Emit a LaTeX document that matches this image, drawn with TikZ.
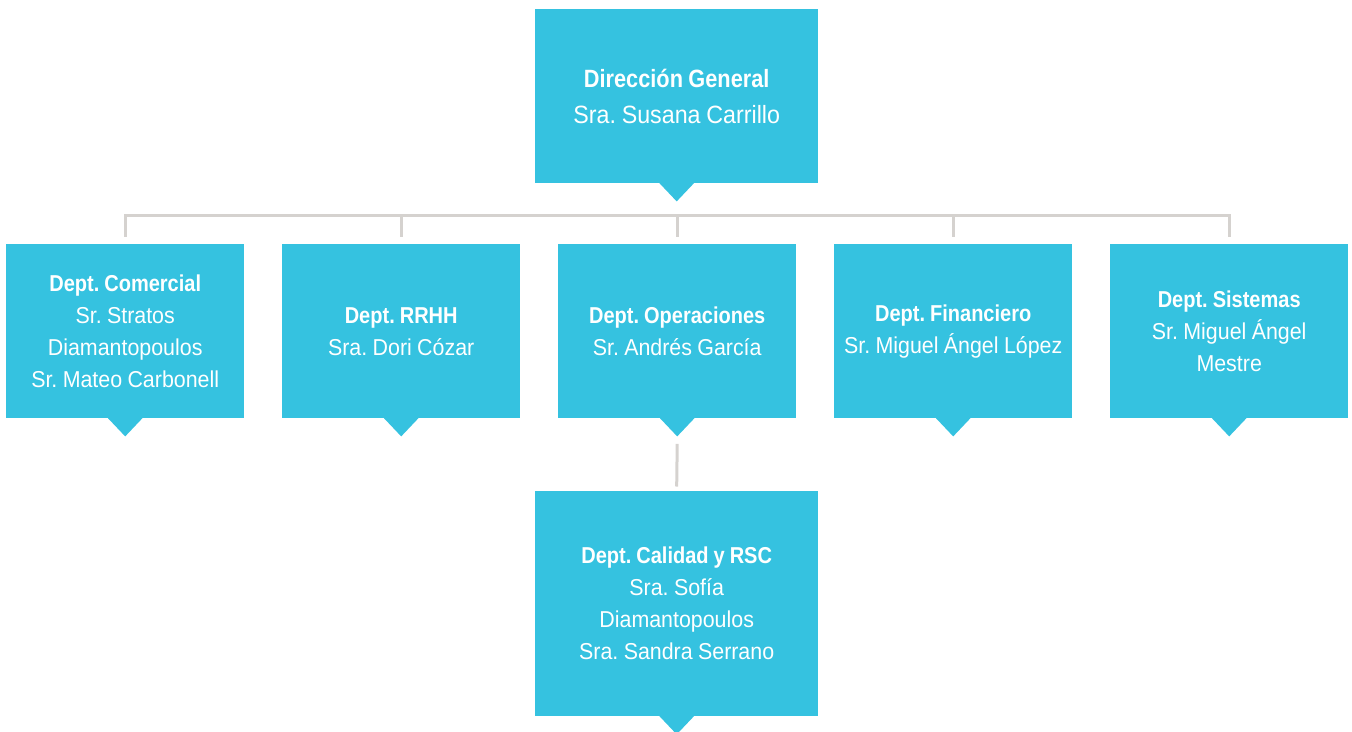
\documentclass[tikz,border=0pt]{standalone}
\usepackage{fontspec}
\setmainfont{Liberation Sans}[FakeStretch=0.93, WordSpace=0.9, BoldFeatures={FakeStretch=0.87}]
\definecolor{boxcyan}{HTML}{35C2E0}
\definecolor{linegray}{HTML}{D5D2CF}
\begin{document}
\begin{tikzpicture}[x=1pt,y=-1pt,
  box/.style={fill=boxcyan, draw=none, text=white, align=center, inner sep=0pt,
    font=\fontsize{23}{32}\selectfont\frenchspacing, anchor=north west},
  dept/.style={box, minimum width=238pt, minimum height=174pt},
  big/.style={box, minimum width=283pt, minimum height=174pt, font=\fontsize{25}{36}\selectfont\frenchspacing},
  bigtall/.style={box, minimum width=283pt, minimum height=225pt},
  conn/.style={draw=linegray, line width=3pt, line join=miter, line cap=rect}]
\useasboundingbox (0,0) rectangle (1352,731);

\node[big] (top) at (535,9) {\textbf{Dirección General}\\Sra. Susana Carrillo};
\node[dept] (d1) at (6,244) {\textbf{Dept. Comercial}\\Sr. Stratos\\Diamantopoulos\\Sr. Mateo Carbonell};
\node[dept] (d2) at (282,244) {\textbf{Dept. RRHH}\\Sra. Dori Cózar};
\node[dept] (d3) at (558,244) {\textbf{Dept. Operaciones}\\Sr. Andrés García};
\node[dept] (d4) at (834,244) {\textbf{Dept. Financiero}\\Sr. Miguel Ángel López};
\node[dept] (d5) at (1110,244) {\textbf{Dept. Sistemas}\\Sr. Miguel Ángel\\Mestre};
\node[bigtall] (cal) at (535,491) {\textbf{Dept. Calidad y RSC}\\Sra. Sofía\\Diamantopoulos\\Sra. Sandra Serrano};

% pointers
\foreach \n in {top,d1,d2,d3,d4,d5,cal}{
  \fill[boxcyan] ([xshift=-18pt,yshift=1pt]\n.south) -- ([xshift=18pt,yshift=1pt]\n.south) -- ([yshift=-18pt]\n.south) -- cycle;
}

% connectors
\draw[conn] ([yshift=9pt]d1.north) |- ([yshift=29pt]d3.north) -| ([yshift=9pt]d5.north);
\foreach \n in {d2,d3,d4}{
  \draw[conn] ([yshift=9pt]\n.north) -- ([yshift=29pt]\n.north);
}
\draw[conn] ([yshift=-27pt]d3.south) -- ([yshift=6pt]cal.north);
\end{tikzpicture}
\end{document}
